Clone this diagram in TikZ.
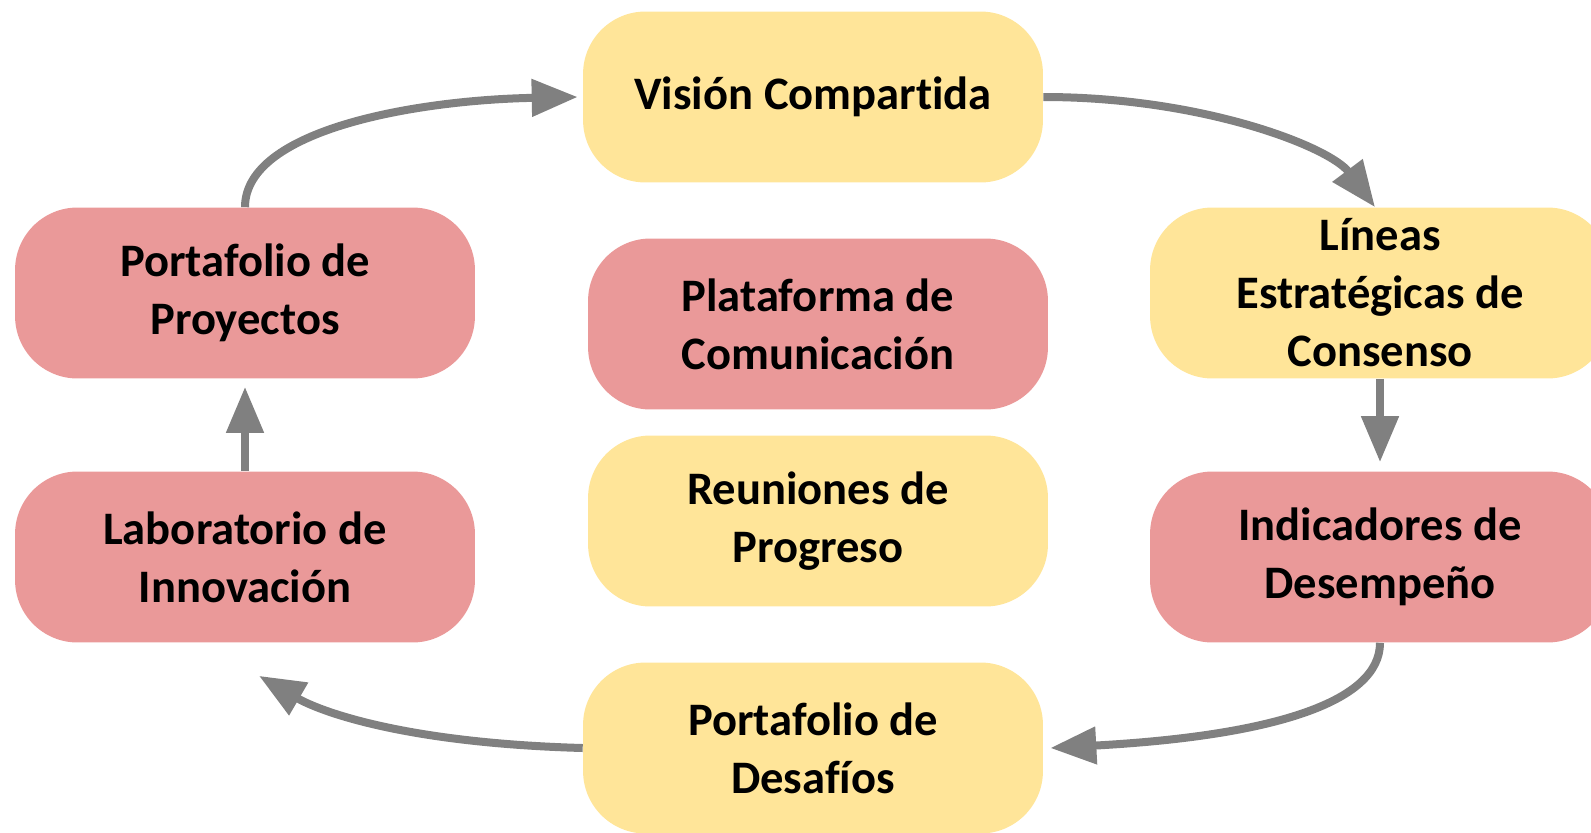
\documentclass[tikz,border=0pt]{standalone}
\usepackage{fontspec}
\setmainfont{Carlito}[Ligatures=NoCommon]
\usepackage{xcolor}
\usepackage{tikz}
\usetikzlibrary{arrows.meta}
\definecolor{boxyellow}{HTML}{FFE599}
\definecolor{boxred}{HTML}{EA9999}
\definecolor{arrowgray}{HTML}{808080}
\tikzstyle{box} = [rounded corners=1.25cm, minimum width=9.2cm,
    minimum height=3.42cm, align=center, inner sep=0pt,
    font=\fontsize{26.5}{33}\selectfont\bfseries]
\tikzstyle{yellowbox} = [box, fill=boxyellow]
\tikzstyle{redbox} = [box, fill=boxred]
\tikzstyle{link} = [draw=arrowgray, line width=0.16cm,
    -{Triangle[length=0.92cm,width=0.72cm]}]

\begin{document}
\begin{tikzpicture}[x=0.02cm,y=-0.02cm]
  \useasboundingbox (0,0) rectangle (1591,832);
  \clip (0,0) rectangle (1591,832);

  \draw (813,97) node[yellowbox] (1) {Visión Compartida};
  \draw (1380,293) node[yellowbox] (2) {Líneas\\Estratégicas de\\Consenso};
  \draw (1380,557) node[redbox] (3) {Indicadores de\\Desempeño};
  \draw (813,748) node[yellowbox] (4) {Portafolio de\\Desafíos};
  \draw (245,557) node[redbox] (5) {Laboratorio de\\Innovación};
  \draw (245,293) node[redbox] (6) {Portafolio de\\Proyectos};

  \draw (818,324) node[redbox] (7) {Plataforma de\\Comunicación};
  \draw (818,521) node[yellowbox] (8) {Reuniones de\\Progreso};

  \draw[link] (1.east) .. controls +(160,0) and +(-45,-60) .. ([xshift=-0.1cm]2.north);
  \draw[link] (2.south) -- ([yshift=0.18cm]3.north);
  \draw[link] (3.south) .. controls +(0,60) and +(220,-12) .. ([xshift=0.14cm]4.east);
  \draw[link] (4.west) .. controls +(-180,-5) and +(60,35) .. ([xshift=0.28cm,yshift=-0.66cm]5.south);
  \draw[link] (5.north) -- ([yshift=-0.16cm]6.south);
  \draw[link] (6.north) .. controls +(0,-78) and +(-160,3) .. ([xshift=-0.1cm]1.west);
\end{tikzpicture}
\end{document}
